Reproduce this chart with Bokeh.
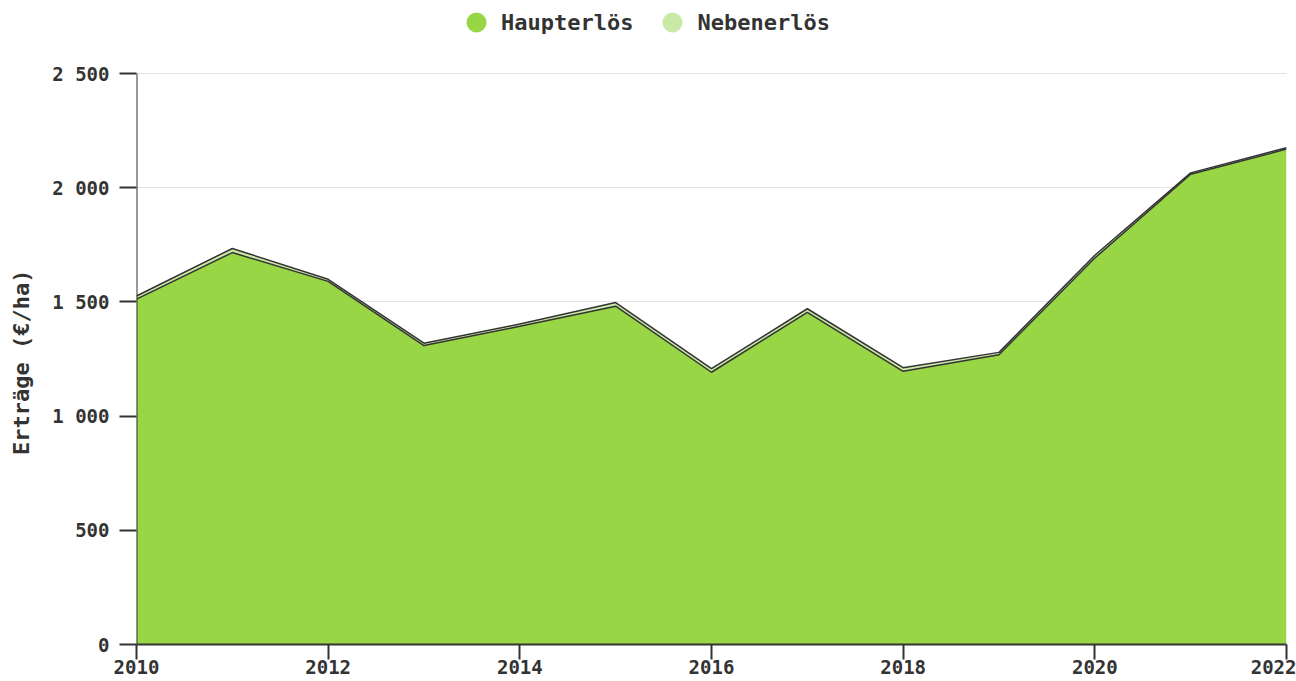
from bokeh.plotting import figure
from bokeh.models import Legend, LegendItem, FixedTicker, Range1d, ColumnDataSource
from bokeh.embed import file_html
from bokeh.resources import INLINE

years = [2010, 2011, 2012, 2013, 2014, 2015, 2016, 2017, 2018, 2019, 2020, 2021, 2022]
haupterloes = [1512, 1716, 1590, 1309, 1393, 1481, 1192, 1454, 1196, 1269, 1692, 2059, 2169]
nebenerloes = [14, 18, 9, 10, 10, 16, 16, 16, 16, 10, 12, 6, 6]
series_names = ["Haupterlös", "Nebenerlös"]
series_colors = ["#98d645", "#c9e9a6"]
y_ticks = [0, 500, 1000, 1500, 2000, 2500]
y_tick_labels = ["0", "500", "1 000", "1 500", "2 000", "2 500"]
x_ticks = [2010, 2012, 2014, 2016, 2018, 2020, 2022]
y_axis_title = "Erträge (€/ha)"

FONT = "DejaVu Sans Mono"
TXT = "#333333"

# layout (pixels)
W, H = 1296, 681
FRAME_LEFT, FRAME_RIGHT, FRAME_BOTTOM = 136, 1286, 644
AXIS_TOP = 73  # pixel row of the top y tick
# frame spans the full height above the x axis so the legend can sit inside it
y_max = y_ticks[-1] * FRAME_BOTTOM / (FRAME_BOTTOM - AXIS_TOP)

cum1 = list(haupterloes)
cum2 = [a + b for a, b in zip(haupterloes, nebenerloes)]
src = ColumnDataSource(dict(x=years, h=haupterloes, n=nebenerloes, c1=cum1, c2=cum2))

p = figure(width=W, height=H, x_range=Range1d(years[0], years[-1]), y_range=Range1d(0, y_max),
           output_backend="svg", toolbar_location=None,
           min_border_left=FRAME_LEFT, min_border_right=W - FRAME_RIGHT,
           min_border_top=0, min_border_bottom=H - FRAME_BOTTOM)
p.outline_line_color = None
p.background_fill_color = "white"

p.varea_stack(["h", "n"], x="x", source=src, fill_color=series_colors)
p.line("x", "c1", source=src, line_color="#333333", line_width=1.5)
p.line("x", "c2", source=src, line_color="#333333", line_width=1.5)

# y axis line drawn only up to the top tick
p.segment(x0=[x_ticks[0]], y0=[y_ticks[0]], x1=[x_ticks[0]], y1=[y_ticks[-1]],
          line_color="#333333", line_width=2)

# legend marker renderers (single point outside the visible range)
d1 = p.scatter(x=[years[0] - 20], y=[-1000], size=20, fill_color=series_colors[0], line_color=None)
d2 = p.scatter(x=[years[0] - 20], y=[-1000], size=20, fill_color=series_colors[1], line_color=None)
legend = Legend(items=[LegendItem(label=series_names[0], renderers=[d1]),
                       LegendItem(label=series_names[1], renderers=[d2])],
                orientation="horizontal", location=(451 - FRAME_LEFT, FRAME_BOTTOM - 47),
                glyph_width=50, glyph_height=50, label_standoff=0, spacing=14,
                padding=0, margin=0,
                label_text_font=FONT, label_text_font_style="bold",
                label_text_font_size="22px", label_text_color=TXT,
                border_line_alpha=0, background_fill_alpha=0)
p.add_layout(legend, "center")

p.xgrid.grid_line_color = None
p.ygrid.grid_line_color = "#e3e3e3"
p.ygrid.ticker = FixedTicker(ticks=y_ticks)

p.yaxis.ticker = FixedTicker(ticks=y_ticks)
p.yaxis.major_label_overrides = {t: l for t, l in zip(y_ticks, y_tick_labels)}
p.xaxis.ticker = FixedTicker(ticks=x_ticks)
p.xaxis.major_label_overrides = {t: str(t) for t in x_ticks}

for ax in (p.xaxis[0], p.yaxis[0]):
    ax.axis_line_color = "#333333"
    ax.axis_line_width = 2
    ax.major_tick_line_color = "#333333"
    ax.major_tick_line_width = 2
    ax.minor_tick_line_color = None
    ax.major_tick_in = 0
    ax.major_label_text_font = FONT
    ax.major_label_text_font_style = "bold"
    ax.major_label_text_font_size = "19px"
    ax.major_label_text_color = TXT

p.yaxis.axis_line_color = None
p.yaxis.major_tick_out = 17
p.yaxis.major_label_standoff = 10
p.xaxis.major_tick_out = 15
p.xaxis.major_label_standoff = 0

# y axis title; trailing no-break spaces centre it on the visible part of the axis
p.yaxis.axis_label = y_axis_title + "\u00a0" * 6
p.yaxis.axis_label_text_font = FONT
p.yaxis.axis_label_text_font_style = "bold"
p.yaxis.axis_label_text_font_size = "22px"
p.yaxis.axis_label_text_color = TXT
p.yaxis.axis_label_standoff = 15

open("out.html", "w").write(file_html(p, INLINE))
